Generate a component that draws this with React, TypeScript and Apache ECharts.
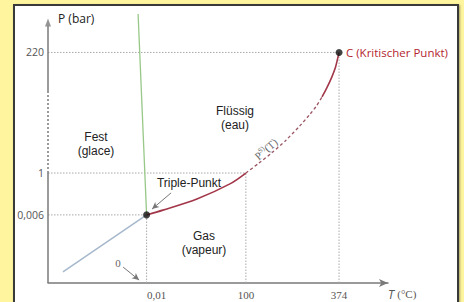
import React, { useEffect, useRef } from "react";
import * as echarts from "echarts";

// Schematic positions (axis units 0..100) of the labelled values
const xTickLabels = ["0,01", "100", "374"];
const xTickPos = [29, 58.2, 85.6];
const yTickLabels = ["0,006", "1", "220"];
const yTickPos = [25.7, 41.5, 87];

const triplePoint = [29, 25.7];
const criticalPoint = [85.6, 87];

const vapourSolidLow = [[29, 25.7], [33.8, 27.5], [43.8, 31.7], [53.5, 37.4], [58.2, 41.5]];
const vapourDashed = [[58.2, 41.5], [62, 45.2], [66, 49.3], [70, 53.9], [74, 59.2], [77, 63.6], [79, 66.9], [80.6, 70.2]];
const vapourSolidHigh = [[80.6, 70.2], [82, 73.6], [83.5, 77.8], [84.6, 81.6], [85.6, 87]];
const sublimation = [[4.4, 4.2], [29, 25.7]];
const melting = [[29, 25.7], [26.5, 101.5]];

const GRID = "#a9a9a9";
const AXIS = "#7a7a7a";
const RED = "#a3374a";
const SANS = "'Open Sans', 'Noto Sans', sans-serif";
const LSANS = "'Liberation Sans', Arial, sans-serif";
const SERIF = "'Liberation Serif', 'DejaVu Serif', serif";

export default function App() {
  const ref = useRef<HTMLDivElement>(null);
  useEffect(() => {
    if (!ref.current) return;
    const chart = echarts.init(ref.current, null, { renderer: "svg" });
    const dotted = (data: number[][]) => ({
      type: "line",
      data,
      symbol: "none",
      silent: true,
      lineStyle: { color: GRID, width: 1, type: [1.5, 1.5] },
      z: 1,
    });
    const xIdx = (v: number) => xTickPos.findIndex((p) => Math.abs(p - v) < 1e-6);
    const yIdx = (v: number) => yTickPos.findIndex((p) => Math.abs(p - v) < 1e-6);
    const label = (text: string, x: number, y: number, size = 12, fill = "#222") => ({
      type: "text",
      x,
      y,
      z: 10,
      style: { text, fill, font: size + "px " + LSANS, align: "center", verticalAlign: "middle" },
    });
    chart.setOption({
      animation: false,
      grid: { left: 48, right: 76, top: 18, bottom: 19 },
      xAxis: {
        type: "value",
        min: 0,
        max: 100,
        splitLine: { show: false },
        axisTick: { show: false },
        axisLine: {
          show: true,
          symbol: ["none", "arrow"],
          symbolSize: [6, 9],
          lineStyle: { color: AXIS, width: 1.5 },
        },
        axisLabel: {
          customValues: xTickPos,
          formatter: (v: number) => {
            const i = xIdx(v);
            if (i < 0) return "";
            return i === 0 ? "{a|" + xTickLabels[i] + "}" : xTickLabels[i];
          },
          color: "#555",
          fontFamily: SERIF,
          fontSize: 11,
          margin: 6,
          rich: { a: { padding: [0, 0, 0, 20], color: "#555", fontFamily: SERIF, fontSize: 11 } },
        },
      },
      yAxis: {
        type: "value",
        min: 0,
        max: 100,
        splitLine: { show: false },
        axisTick: { show: false },
        axisLine: { show: false },
        axisLabel: {
          customValues: yTickPos,
          formatter: (v: number) => {
            const i = yIdx(v);
            return i < 0 ? "" : yTickLabels[i];
          },
          color: "#555",
          fontFamily: SANS,
          fontSize: 10.5,
          margin: 4,
        },
      },
      series: [
        dotted([[0, yTickPos[2]], [xTickPos[2], yTickPos[2]]]),
        dotted([[0, yTickPos[1]], [xTickPos[1], yTickPos[1]]]),
        dotted([[0, yTickPos[0]], [xTickPos[0], yTickPos[0]]]),
        dotted([[xTickPos[0], 0], [xTickPos[0], yTickPos[0]]]),
        dotted([[xTickPos[1], 0], [xTickPos[1], yTickPos[1]]]),
        dotted([[xTickPos[2], 0], [xTickPos[2], yTickPos[2]]]),
        // y axis: solid / dotted break / solid with arrow
        {
          type: "line",
          data: [[0, 0], [0, yTickPos[1]]],
          symbol: "none",
          silent: true,
          lineStyle: { color: AXIS, width: 1.5 },
          z: 3,
        },
        {
          type: "line",
          data: [[0, yTickPos[1]], [0, 71.7]],
          symbol: "none",
          silent: true,
          lineStyle: { color: AXIS, width: 1.5, type: [2, 2] },
          z: 3,
        },
        {
          type: "line",
          data: [[0, 71.7], [0, 97]],
          symbol: "none",
          silent: true,
          lineStyle: { color: AXIS, width: 1.5 },
          z: 3,
        },
        {
          type: "scatter",
          data: [[0, 98.3]],
          symbol: "triangle",
          symbolSize: [6, 8],
          itemStyle: { color: AXIS },
          silent: true,
          z: 3,
        },
        {
          type: "line",
          data: sublimation,
          symbol: "none",
          silent: true,
          lineStyle: { color: "#a6b8cc", width: 1.5 },
          z: 4,
        },
        {
          type: "line",
          data: melting,
          symbol: "none",
          silent: true,
          clip: false,
          lineStyle: { color: "#98c888", width: 1.3 },
          z: 4,
        },
        {
          type: "line",
          data: vapourSolidLow,
          symbol: "none",
          smooth: 0.3,
          silent: true,
          lineStyle: { color: RED, width: 1.6 },
          z: 4,
        },
        {
          type: "line",
          data: vapourDashed,
          symbol: "none",
          smooth: 0.2,
          silent: true,
          lineStyle: { color: "#9a5462", width: 1.3, type: [3, 2.5] },
          z: 4,
        },
        {
          type: "line",
          data: vapourSolidHigh,
          symbol: "none",
          smooth: 0.2,
          silent: true,
          lineStyle: { color: RED, width: 1.6 },
          z: 4,
        },
        {
          type: "scatter",
          data: [triplePoint, criticalPoint],
          symbol: "circle",
          symbolSize: 7,
          itemStyle: { color: "#111" },
          silent: true,
          z: 6,
          markLine: {
            silent: true,
            symbol: ["none", "arrow"],
            symbolSize: [5, 7],
            label: { show: false },
            lineStyle: { color: "#777", width: 1, type: "solid" },
            data: [
              [{ coord: [36.2, 34] }, { coord: [30.6, 27.9] }],
              [{ coord: [22.1, 6.0] }, { coord: [26.8, 1.1] }],
            ],
          },
        },
      ],
      graphic: [
        { type: "text", x: 58, y: 18, z: 10, style: { text: "P (bar)", fill: "#222", font: "12px " + SANS, verticalAlign: "middle" } },
        { type: "text", x: 346, y: 52, z: 10, style: { text: "C (Kritischer Punkt)", fill: "#b3262f", font: "11.5px " + SANS, verticalAlign: "middle" } },
        label("Flüssig", 235, 111),
        label("(eau)", 235, 125),
        label("Fest", 96, 137),
        label("(glace)", 96, 151),
        label("Triple-Punkt", 189, 183),
        label("Gas", 204, 236),
        label("(vapeur)", 204, 250),
        { type: "text", x: 118, y: 263, z: 10, style: { text: "0", fill: "#666", font: "11px " + SERIF, align: "center", verticalAlign: "middle" } },
        {
          type: "text",
          x: 388,
          y: 294,
          z: 10,
          style: {
            text: "{t|T} {r|(°C)}",
            verticalAlign: "middle",
            rich: {
              t: { fill: "#555", font: "italic 12px " + SANS },
              r: { fill: "#555", font: "11px " + SERIF },
            },
          },
        },
        {
          type: "text",
          x: 266,
          y: 149,
          rotation: 0.72,
          z: 10,
          style: {
            text: "{p|P}{s|S)}{p|(T)}",
            align: "center",
            verticalAlign: "middle",
            rich: {
              p: { fill: "#666", font: "11px " + SERIF },
              s: { fill: "#666", font: "7px " + SERIF, verticalAlign: "top", padding: [0, 0, 5, 0] },
            },
          },
        },
      ],
    });
    return () => chart.dispose();
  }, []);
  return (
    <div style={{ position: "fixed", left: 0, top: 0, width: 464, height: 302, background: "#fef59e", overflow: "hidden" }}>
      <div
        style={{
          position: "absolute",
          left: 13,
          top: 4,
          width: 442,
          height: 320,
          background: "#fff",
          border: "2px solid #3a3a3a",
          boxShadow: "1px 1px 2px rgba(0,0,0,0.35)",
        }}
      />
      <div ref={ref} style={{ position: "absolute", left: 0, top: 0, width: 464, height: 302 }} />
    </div>
  );
}
